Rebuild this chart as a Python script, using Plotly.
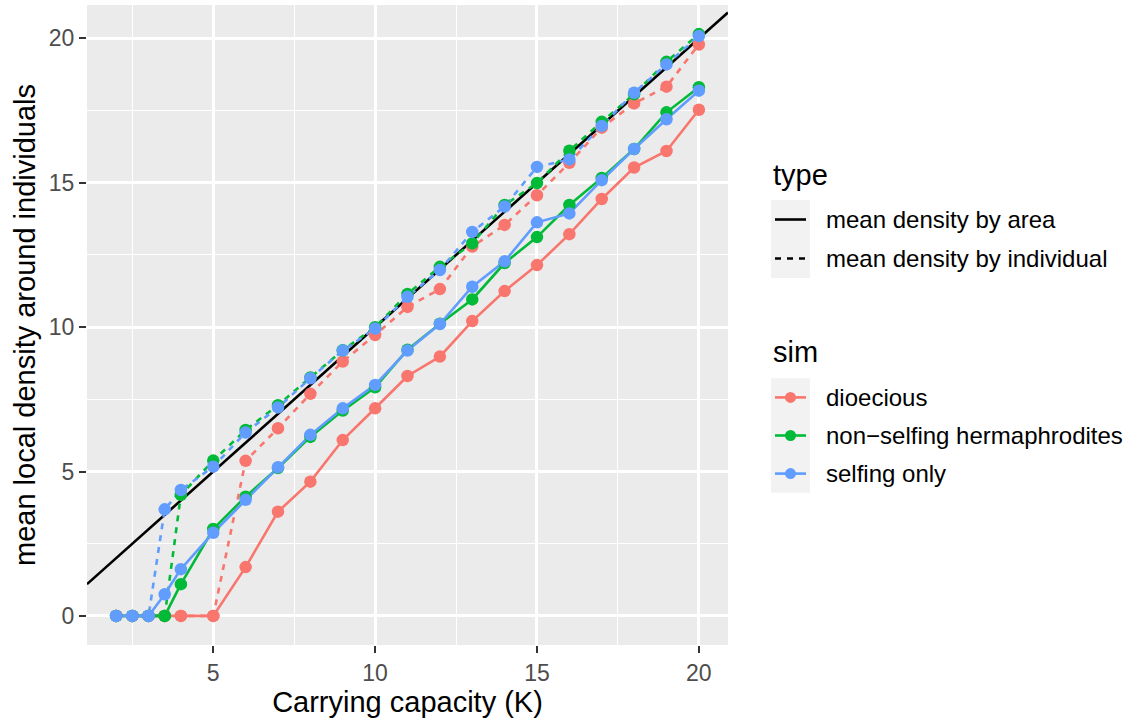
import plotly.graph_objects as go

# ---------------- data ----------------
K = [2, 2.5, 3, 3.5, 4, 5, 6, 7, 8, 9, 10, 11, 12, 13, 14, 15, 16, 17, 18, 19, 20]

sims = ["dioecious", "non\u2212selfing hermaphrodites", "selfing only"]
sim_colors = ["#F8766D", "#00BA38", "#619CFF"]
types = ["mean density by area", "mean density by individual"]

dio_area = [0, 0, 0, 0, 0, 0, 1.69, 3.61, 4.65, 6.09, 7.19, 8.31, 8.98, 10.21, 11.25, 12.15, 13.22, 14.44, 15.53, 16.10, 17.53]
dio_indiv = [0, 0, 0, 0, 0, 0, 5.37, 6.50, 7.69, 8.81, 9.73, 10.70, 11.32, 12.79, 13.54, 14.57, 15.69, 16.91, 17.75, 18.33, 19.79]
nsh_area = [0, 0, 0, 0, 1.10, 3.01, 4.13, 5.12, 6.20, 7.11, 7.92, 9.22, 10.12, 10.96, 12.22, 13.12, 14.23, 15.17, 16.17, 17.44, 18.31]
nsh_indiv = [0, 0, 0, 0, 4.19, 5.38, 6.44, 7.30, 8.26, 9.20, 10.00, 11.15, 12.09, 12.90, 14.23, 14.99, 16.11, 17.11, 18.07, 19.19, 20.15]
self_area = [0, 0, 0, 0.75, 1.62, 2.88, 4.02, 5.15, 6.27, 7.19, 8.00, 9.19, 10.11, 11.40, 12.28, 13.63, 13.94, 15.09, 16.17, 17.20, 18.19]
self_indiv = [0, 0, 0, 3.69, 4.36, 5.17, 6.35, 7.22, 8.23, 9.19, 9.95, 11.05, 11.98, 13.30, 14.18, 15.55, 15.81, 16.97, 18.12, 19.10, 20.08]

abline_slope = 1.0
abline_intercept = 0.0

x_ticks = [5, 10, 15, 20]
y_ticks = [0, 5, 10, 15, 20]
minor_ticks = [2.5, 7.5, 12.5, 17.5]

series = [
    (0, 0, dio_area), (0, 1, dio_indiv),
    (1, 0, nsh_area), (1, 1, nsh_indiv),
    (2, 0, self_area), (2, 1, self_indiv),
]

# ---------------- layout geometry ----------------
W, H = 1126, 719
ML, MR, MT, MB = 87, 398, 5, 74
PW, PH = W - ML - MR, H - MT - MB

xmin_d, xmax_d = min(K), max(K)
xpad = 0.05 * (xmax_d - xmin_d)
xr = [xmin_d - xpad, xmax_d + xpad]
all_y = dio_area + dio_indiv + nsh_area + nsh_indiv + self_area + self_indiv
ymin_d, ymax_d = min(all_y), max(all_y)
ypad = 0.05 * (ymax_d - ymin_d)
yr = [ymin_d - ypad, ymax_d + ypad]

FONT = "Liberation Sans, Arial, Helvetica, sans-serif"
DASH = "6px,6px"
LW = 2.6
MS = 12.5

def px(xpix):
    return (xpix - ML) / PW

def py(ypix):
    return (H - MB - ypix) / PH

fig = go.Figure()

# reference line y = x
fig.add_trace(go.Scatter(
    x=xr, y=[abline_intercept + abline_slope * v for v in xr],
    mode="lines", line=dict(color="black", width=LW),
    showlegend=False, hoverinfo="skip"))

# lines
for si, ti, vals in series:
    fig.add_trace(go.Scatter(
        x=K, y=vals, mode="lines",
        line=dict(color=sim_colors[si], width=LW, dash="solid" if ti == 0 else DASH),
        showlegend=False, name=f"{sims[si]} - {types[ti]}"))

# points
for si, ti, vals in series:
    fig.add_trace(go.Scatter(
        x=K, y=vals, mode="markers",
        marker=dict(color=sim_colors[si], size=MS, line=dict(width=0)),
        showlegend=False, name=f"{sims[si]} - {types[ti]}"))

shapes = []
annotations = []

# ---- manual ggplot-style legend ----
key_x0, key_x1 = 771, 810
line_x0, line_x1 = 775, 806
text_x = 824
LEG_FS = 24
TITLE_FS = 29

annotations.append(dict(text="type", x=px(771), y=py(175), xref="paper", yref="paper",
                        xanchor="left", yanchor="middle", showarrow=False,
                        font=dict(size=TITLE_FS, color="black", family=FONT)))
type_centers = [219.5, 258.5]
shapes.append(dict(type="rect", xref="paper", yref="paper", x0=px(key_x0), x1=px(key_x1),
                   y0=py(200), y1=py(278), fillcolor="#F2F2F2", line=dict(width=0), layer="below"))
for i, t in enumerate(types):
    cy = type_centers[i]
    shapes.append(dict(type="line", xref="paper", yref="paper", x0=px(line_x0), x1=px(line_x1),
                       y0=py(cy), y1=py(cy),
                       line=dict(color="black", width=LW, dash="solid" if i == 0 else DASH)))
    annotations.append(dict(text=t, x=px(text_x), y=py(cy), xref="paper", yref="paper",
                            xanchor="left", yanchor="middle", showarrow=False,
                            font=dict(size=LEG_FS, color="black", family=FONT)))

annotations.append(dict(text="sim", x=px(771), y=py(352), xref="paper", yref="paper",
                        xanchor="left", yanchor="middle", showarrow=False,
                        font=dict(size=TITLE_FS, color="black", family=FONT)))
sim_centers = [397.4, 435.5, 473.6]
shapes.append(dict(type="rect", xref="paper", yref="paper", x0=px(key_x0), x1=px(key_x1),
                   y0=py(378.3), y1=py(492.7), fillcolor="#F2F2F2", line=dict(width=0), layer="below"))
for i, s in enumerate(sims):
    cy = sim_centers[i]
    shapes.append(dict(type="line", xref="paper", yref="paper", x0=px(line_x0), x1=px(line_x1),
                       y0=py(cy), y1=py(cy), line=dict(color=sim_colors[i], width=LW)))
    shapes.append(dict(type="circle", xref="paper", yref="paper",
                       xsizemode="pixel", ysizemode="pixel",
                       xanchor=px((line_x0 + line_x1) / 2), yanchor=py(cy),
                       x0=-5.5, x1=5.5, y0=-5.5, y1=5.5,
                       fillcolor=sim_colors[i], line=dict(width=0)))
    annotations.append(dict(text=s, x=px(text_x), y=py(cy), xref="paper", yref="paper",
                            xanchor="left", yanchor="middle", showarrow=False,
                            font=dict(size=LEG_FS, color="black", family=FONT)))

axis_common = dict(
    showgrid=True, gridcolor="white", gridwidth=2.6,
    zeroline=False, showline=False,
    ticks="outside", ticklen=7, tickwidth=2, tickcolor="#333333",
    tickfont=dict(size=23, color="#4D4D4D", family=FONT),
)
minor_cfg = dict(tickvals=minor_ticks, showgrid=True, gridcolor="white", gridwidth=1.3, ticklen=0)

fig.update_layout(
    width=W, height=H,
    margin=dict(l=ML, r=MR, t=MT, b=MB, autoexpand=False),
    paper_bgcolor="white", plot_bgcolor="#EBEBEB",
    showlegend=False,
    xaxis=dict(range=xr, tickvals=x_ticks, ticktext=[str(v) for v in x_ticks],
               title=dict(text="Carrying capacity (K)", font=dict(size=TITLE_FS, color="black", family=FONT),
                          standoff=0),
               minor=minor_cfg, **axis_common),
    yaxis=dict(range=yr, tickvals=y_ticks, ticktext=[str(v) for v in y_ticks],
               title=dict(text="mean local density around individuals",
                          font=dict(size=TITLE_FS, color="black", family=FONT), standoff=4),
               minor=minor_cfg, **axis_common),
    shapes=shapes,
    annotations=annotations,
    font=dict(family=FONT),
)

fig.write_html("out.html",
               config={"displayModeBar": False},
               post_script="document.body.style.margin='0px';document.body.style.overflow='hidden';")
